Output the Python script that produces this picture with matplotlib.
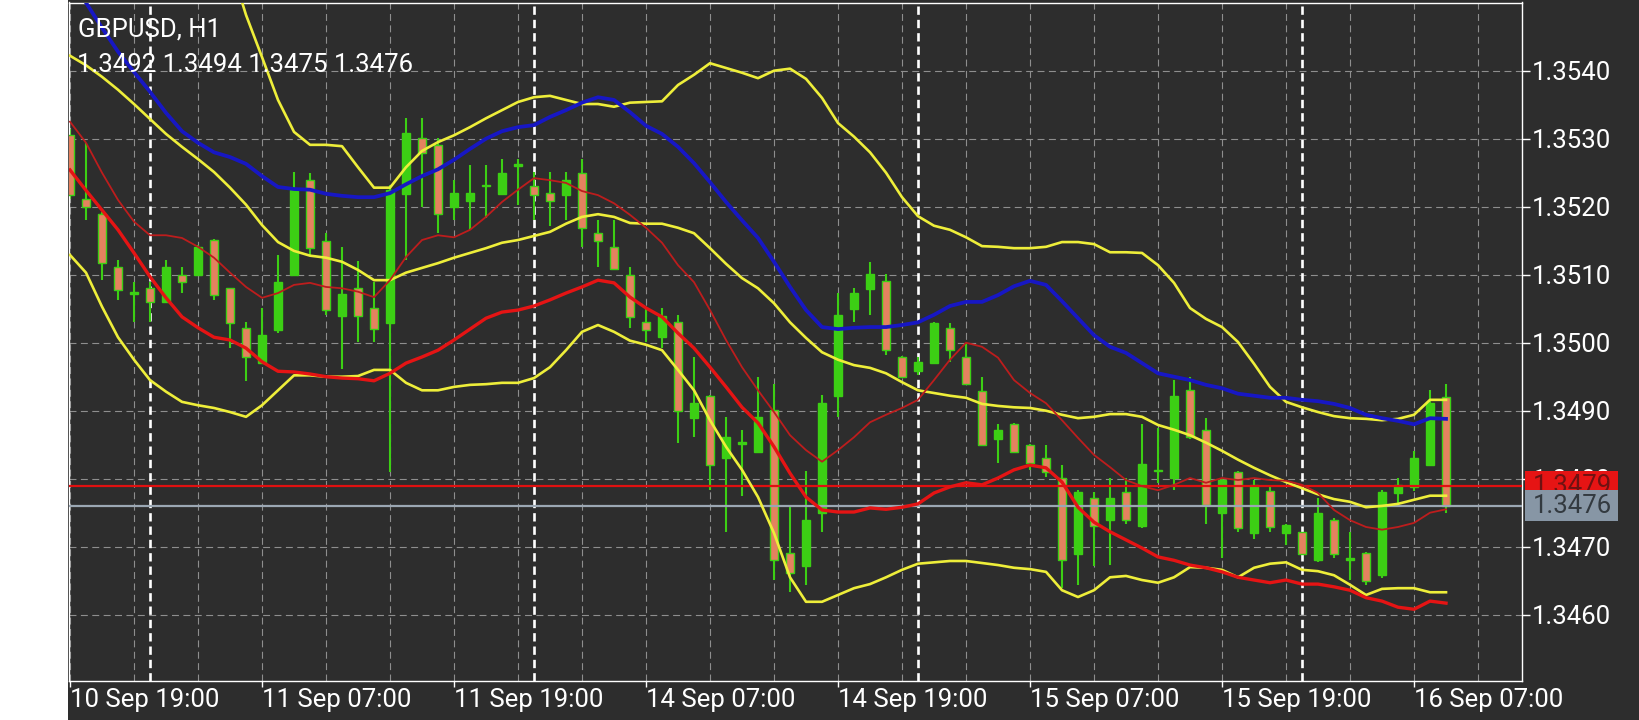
import matplotlib
matplotlib.use('Agg')
import matplotlib.pyplot as plt
from matplotlib.patches import Rectangle
import matplotlib.transforms as mtransforms
import numpy as np

plt.rcParams['font.family'] = ['Roboto', 'DejaVu Sans']
plt.rcParams['lines.scale_dashes'] = False

# ---------------- data ----------------
symbol_title = "GBPUSD, H1"
last_ohlc = "1.3492 1.3494 1.3475 1.3476"

opens = [1.35305, 1.35211, 1.35190, 1.35112, 1.35072, 1.35080, 1.35060, 1.35100, 1.35100, 1.35151,
         1.35080, 1.35021, 1.34970, 1.35019, 1.35100, 1.35239, 1.35150, 1.35039, 1.35080, 1.35051,
         1.35029, 1.35218, 1.35301, 1.35291, 1.35200, 1.35209, 1.35230, 1.35218, 1.35260, 1.35230,
         1.35220, 1.35217, 1.35250, 1.35161, 1.35141, 1.35100, 1.35031, 1.35009, 1.35031, 1.34889,
         1.34922, 1.34830, 1.34851, 1.34840, 1.34901, 1.34691, 1.34671, 1.34749, 1.34921, 1.35049,
         1.35079, 1.35091, 1.34979, 1.34959, 1.34970, 1.35021, 1.34979, 1.34929, 1.34859, 1.34881,
         1.34850, 1.34831, 1.34801, 1.34690, 1.34771, 1.34739, 1.34781, 1.34730, 1.34811, 1.34801,
         1.34930, 1.34872, 1.34749, 1.34810, 1.34720, 1.34782, 1.34720, 1.34721, 1.34680, 1.34740,
         1.34681, 1.34691, 1.34658, 1.34779, 1.34788, 1.34820, 1.34920]
highs = [1.35315, 1.35293, 1.35192, 1.35122, 1.35090, 1.35090, 1.35122, 1.35112, 1.35143, 1.35152,
         1.35081, 1.35031, 1.35051, 1.35129, 1.35251, 1.35250, 1.35161, 1.35141, 1.35120, 1.35090,
         1.35232, 1.35330, 1.35330, 1.35301, 1.35239, 1.35261, 1.35261, 1.35270, 1.35270, 1.35251,
         1.35251, 1.35251, 1.35270, 1.35180, 1.35180, 1.35112, 1.35051, 1.35051, 1.35041, 1.34979,
         1.34923, 1.34891, 1.34872, 1.34950, 1.34940, 1.34761, 1.34812, 1.34923, 1.35073, 1.35080,
         1.35119, 1.35101, 1.34980, 1.34979, 1.35031, 1.35029, 1.34999, 1.34950, 1.34881, 1.34882,
         1.34851, 1.34850, 1.34820, 1.34783, 1.34781, 1.34801, 1.34801, 1.34881, 1.34874, 1.34945,
         1.34950, 1.34889, 1.34800, 1.34812, 1.34798, 1.34791, 1.34733, 1.34722, 1.34771, 1.34742,
         1.34722, 1.34692, 1.34783, 1.34801, 1.34841, 1.34930, 1.34940]
lows = [1.35212, 1.35180, 1.35092, 1.35063, 1.35031, 1.35031, 1.35058, 1.35073, 1.35098, 1.35063,
        1.34992, 1.34943, 1.34968, 1.35014, 1.35098, 1.35129, 1.35041, 1.34962, 1.35001, 1.35001,
        1.34810, 1.35122, 1.35200, 1.35161, 1.35180, 1.35166, 1.35184, 1.35217, 1.35202, 1.35180,
        1.35171, 1.35180, 1.35141, 1.35112, 1.35108, 1.35021, 1.35001, 1.34992, 1.34852, 1.34862,
        1.34783, 1.34722, 1.34774, 1.34838, 1.34651, 1.34634, 1.34644, 1.34722, 1.34891, 1.35031,
        1.35041, 1.34982, 1.34948, 1.34952, 1.34968, 1.34972, 1.34938, 1.34848, 1.34823, 1.34838,
        1.34813, 1.34803, 1.34639, 1.34644, 1.34671, 1.34673, 1.34734, 1.34728, 1.34793, 1.34783,
        1.34859, 1.34734, 1.34683, 1.34722, 1.34712, 1.34722, 1.34702, 1.34688, 1.34678, 1.34683,
        1.34651, 1.34644, 1.34654, 1.34764, 1.34782, 1.34818, 1.34750]
closes = [1.35217, 1.35199, 1.35117, 1.35078, 1.35074, 1.35060, 1.35112, 1.35090, 1.35141, 1.35070,
          1.35029, 1.34979, 1.35011, 1.35090, 1.35225, 1.35139, 1.35048, 1.35072, 1.35039, 1.35020,
          1.35225, 1.35309, 1.35279, 1.35190, 1.35220, 1.35220, 1.35232, 1.35250, 1.35262, 1.35217,
          1.35209, 1.35240, 1.35168, 1.35149, 1.35109, 1.35038, 1.35019, 1.35039, 1.34899, 1.34911,
          1.34820, 1.34861, 1.34853, 1.34891, 1.34680, 1.34661, 1.34740, 1.34911, 1.35041, 1.35073,
          1.35101, 1.34989, 1.34950, 1.34971, 1.35029, 1.34989, 1.34939, 1.34850, 1.34872, 1.34840,
          1.34823, 1.34810, 1.34680, 1.34781, 1.34730, 1.34771, 1.34739, 1.34821, 1.34813, 1.34921,
          1.34861, 1.34761, 1.34798, 1.34727, 1.34791, 1.34729, 1.34732, 1.34690, 1.34750, 1.34690,
          1.34683, 1.34650, 1.34781, 1.34791, 1.34831, 1.34912, 1.34760]

upper_band = [1.35715, 1.35713, 1.35729, 1.35736, 1.35727, 1.35713, 1.35686, 1.35663, 1.35632, 1.35598,
              1.35558, 1.35482, 1.35420, 1.35357, 1.35310, 1.35291, 1.35291, 1.35289, 1.35258, 1.35228,
              1.35228, 1.35258, 1.35282, 1.35295, 1.35305, 1.35317, 1.35330, 1.35342, 1.35354, 1.35361,
              1.35363, 1.35357, 1.35351, 1.35351, 1.35347, 1.35353, 1.35354, 1.35355, 1.35379, 1.35394,
              1.35411, 1.35404, 1.35397, 1.35389, 1.35400, 1.35403, 1.35388, 1.35360, 1.35323, 1.35303,
              1.35280, 1.35250, 1.35214, 1.35186, 1.35172, 1.35166, 1.35155, 1.35142, 1.35141, 1.35139,
              1.35139, 1.35141, 1.35148, 1.35148, 1.35145, 1.35133, 1.35133, 1.35132, 1.35114, 1.35088,
              1.35051, 1.35035, 1.35023, 1.35001, 1.34969, 1.34935, 1.34913, 1.34905, 1.34898, 1.34892,
              1.34889, 1.34888, 1.34886, 1.34888, 1.34894, 1.34916, 1.34916]
middle_band = [1.35422, 1.35408, 1.35391, 1.35372, 1.35351, 1.35329, 1.35307, 1.35288, 1.35270, 1.35251,
               1.35228, 1.35203, 1.35173, 1.35148, 1.35135, 1.35128, 1.35125, 1.35119, 1.35107, 1.35092,
               1.35092, 1.35103, 1.35110, 1.35117, 1.35125, 1.35132, 1.35139, 1.35147, 1.35151, 1.35157,
               1.35163, 1.35175, 1.35185, 1.35189, 1.35185, 1.35176, 1.35175, 1.35175, 1.35169, 1.35161,
               1.35139, 1.35116, 1.35095, 1.35080, 1.35058, 1.35030, 1.35007, 1.34986, 1.34975, 1.34967,
               1.34963, 1.34955, 1.34942, 1.34930, 1.34926, 1.34922, 1.34919, 1.34910, 1.34907, 1.34905,
               1.34904, 1.34900, 1.34894, 1.34889, 1.34891, 1.34895, 1.34895, 1.34891, 1.34879, 1.34872,
               1.34864, 1.34853, 1.34841, 1.34828, 1.34816, 1.34805, 1.34795, 1.34786, 1.34777, 1.34770,
               1.34766, 1.34758, 1.34760, 1.34763, 1.34769, 1.34775, 1.34775]
lower_band = [1.35129, 1.35103, 1.35053, 1.35008, 1.34975, 1.34945, 1.34928, 1.34913, 1.34908, 1.34904,
              1.34898, 1.34891, 1.34908, 1.34930, 1.34952, 1.34952, 1.34950, 1.34950, 1.34951, 1.34960,
              1.34960, 1.34941, 1.34930, 1.34930, 1.34935, 1.34938, 1.34939, 1.34941, 1.34941, 1.34948,
              1.34964, 1.34989, 1.35016, 1.35026, 1.35016, 1.35003, 1.34997, 1.34989, 1.34960, 1.34930,
              1.34886, 1.34847, 1.34813, 1.34773, 1.34720, 1.34655, 1.34619, 1.34619, 1.34629, 1.34639,
              1.34645, 1.34655, 1.34666, 1.34675, 1.34677, 1.34679, 1.34679, 1.34676, 1.34673, 1.34669,
              1.34667, 1.34663, 1.34636, 1.34626, 1.34636, 1.34655, 1.34657, 1.34651, 1.34647, 1.34655,
              1.34670, 1.34669, 1.34666, 1.34655, 1.34669, 1.34675, 1.34677, 1.34666, 1.34664, 1.34658,
              1.34644, 1.34629, 1.34638, 1.34639, 1.34639, 1.34633, 1.34633]
blue_ma = [1.35541, 1.35500, 1.35463, 1.35428, 1.35398, 1.35369, 1.35338, 1.35311, 1.35294, 1.35280,
           1.35273, 1.35263, 1.35245, 1.35229, 1.35226, 1.35225, 1.35219, 1.35216, 1.35214, 1.35214,
           1.35220, 1.35233, 1.35245, 1.35255, 1.35269, 1.35285, 1.35300, 1.35311, 1.35317, 1.35320,
           1.35332, 1.35342, 1.35353, 1.35361, 1.35357, 1.35339, 1.35319, 1.35307, 1.35288, 1.35264,
           1.35236, 1.35207, 1.35180, 1.35154, 1.35119, 1.35082, 1.35048, 1.35023, 1.35020, 1.35022,
           1.35023, 1.35023, 1.35026, 1.35030, 1.35041, 1.35054, 1.35060, 1.35060, 1.35070, 1.35083,
           1.35091, 1.35085, 1.35061, 1.35036, 1.35011, 1.34994, 1.34985, 1.34970, 1.34955, 1.34950,
           1.34945, 1.34938, 1.34933, 1.34925, 1.34922, 1.34919, 1.34919, 1.34916, 1.34914, 1.34910,
           1.34904, 1.34894, 1.34889, 1.34885, 1.34880, 1.34889, 1.34888]
red_thin = [1.35325, 1.35294, 1.35250, 1.35210, 1.35178, 1.35158, 1.35158, 1.35154, 1.35141, 1.35125,
            1.35103, 1.35082, 1.35066, 1.35073, 1.35085, 1.35088, 1.35082, 1.35080, 1.35075, 1.35067,
            1.35092, 1.35126, 1.35151, 1.35158, 1.35155, 1.35166, 1.35185, 1.35207, 1.35225, 1.35242,
            1.35239, 1.35235, 1.35223, 1.35217, 1.35205, 1.35188, 1.35169, 1.35147, 1.35114, 1.35089,
            1.35048, 1.35004, 1.34964, 1.34930, 1.34898, 1.34864, 1.34842, 1.34825, 1.34842, 1.34861,
            1.34883, 1.34894, 1.34904, 1.34916, 1.34945, 1.34975, 1.35000, 1.34994, 1.34978, 1.34945,
            1.34926, 1.34911, 1.34886, 1.34860, 1.34835, 1.34817, 1.34798, 1.34789, 1.34783, 1.34791,
            1.34801, 1.34794, 1.34801, 1.34798, 1.34801, 1.34798, 1.34797, 1.34791, 1.34779, 1.34754,
            1.34739, 1.34729, 1.34725, 1.34729, 1.34735, 1.34750, 1.34755]
red_thick = [1.35254, 1.35224, 1.35195, 1.35166, 1.35132, 1.35097, 1.35066, 1.35038, 1.35022, 1.35008,
             1.35004, 1.34992, 1.34972, 1.34958, 1.34957, 1.34954, 1.34950, 1.34948, 1.34947, 1.34944,
             1.34955, 1.34970, 1.34979, 1.34989, 1.35004, 1.35020, 1.35036, 1.35045, 1.35048, 1.35054,
             1.35063, 1.35073, 1.35082, 1.35092, 1.35088, 1.35067, 1.35051, 1.35038, 1.35014, 1.34992,
             1.34964, 1.34935, 1.34905, 1.34882, 1.34847, 1.34808, 1.34773, 1.34754, 1.34751, 1.34751,
             1.34757, 1.34755, 1.34758, 1.34763, 1.34779, 1.34788, 1.34794, 1.34791, 1.34801, 1.34813,
             1.34820, 1.34816, 1.34795, 1.34758, 1.34736, 1.34722, 1.34710, 1.34698, 1.34685, 1.34680,
             1.34673, 1.34669, 1.34663, 1.34655, 1.34651, 1.34647, 1.34651, 1.34645, 1.34645, 1.34641,
             1.34636, 1.34625, 1.34620, 1.34611, 1.34608, 1.34620, 1.34617]

time_tick_index = [0, 12, 24, 36, 48, 60, 72, 84]
time_tick_labels = ["10 Sep 19:00", "11 Sep 07:00", "11 Sep 19:00", "14 Sep 07:00",
                    "14 Sep 19:00", "15 Sep 07:00", "15 Sep 19:00", "16 Sep 07:00"]
day_separators = [5, 29, 53, 77]
price_ticks = [1.3460, 1.3470, 1.3480, 1.3490, 1.3500, 1.3510, 1.3520, 1.3530, 1.3540]
ask_price = 1.3479
bid_price = 1.3476

# ---------------- style ----------------
W, H = 1640, 720
BG = '#2d2d2d'
GRID = '#8e8e8e'
GREEN = '#3ccf14'
SALMON = '#e4825f'
YELLOW = '#eeee3a'
BLUE = '#1717c4'
RED_THIN = '#bd1d1d'
RED_THICK = '#e51414'
FS = 18.5

fig = plt.figure(figsize=(W / 100, H / 100), dpi=100, facecolor=BG)
fig.patches.append(Rectangle((0, 0), 68 / W, 1, transform=fig.transFigure,
                             facecolor='white', edgecolor='none', zorder=-10))
ax_l, ax_r, ax_b, ax_t = 69.3, 1521.7, 681.0, 2.5
ax = fig.add_axes([ax_l / W, 1 - ax_b / H, (ax_r - ax_l) / W, (ax_b - ax_t) / H], facecolor=BG)
ax.set_xlim(-0.044, 90.73)
ax.set_ylim(1.345025, 1.355003)

# grid
for p in price_ticks:
    ax.axhline(p, color=GRID, lw=0.8, ls=(0, (5, 3.2)), zorder=1)
for gx in range(0, 92, 4):
    ax.axvline(gx, color=GRID, lw=0.8, ls=(0, (5, 3.2)), zorder=1)
for d in day_separators:
    ax.axvline(d, color='white', lw=1.9, ls=(0, (6, 3.6)), zorder=1.5)

# candles
x = np.arange(len(opens))
o = np.array(opens); h = np.array(highs); l = np.array(lows); c = np.array(closes)
bull = c >= o
ax.vlines(x, l, h, color=GREEN, lw=1.5, zorder=2)
body_bottom = np.minimum(o, c)
body_h = np.maximum(np.abs(c - o), 0.000025)
ax.bar(x, body_h, bottom=body_bottom, width=0.5,
       color=[GREEN if b else SALMON for b in bull],
       edgecolor=GREEN, linewidth=1.0, zorder=3)

# bid / ask lines
ax.axhline(ask_price, color='#e01010', lw=1.6, zorder=4)
ax.axhline(bid_price, color='#9ba7b3', lw=1.6, zorder=4)

# indicators
ax.plot(x, upper_band, color=YELLOW, lw=1.9, zorder=5)
ax.plot(x, middle_band, color=YELLOW, lw=1.9, zorder=5)
ax.plot(x, lower_band, color=YELLOW, lw=1.9, zorder=5)
ax.plot(x, red_thin, color=RED_THIN, lw=1.3, zorder=5.2)
ax.plot(x, red_thick, color=RED_THICK, lw=2.4, zorder=5.3)
ax.plot(x, blue_ma, color=BLUE, lw=2.7, zorder=5.4)

# spines / ticks
for s in ax.spines.values():
    s.set_color('white')
    s.set_linewidth(1.0)
ax.yaxis.tick_right()
ax.set_yticks(price_ticks)
ax.set_yticklabels([f'{p:.4f}' for p in price_ticks])
ax.tick_params(axis='y', colors='white', labelsize=FS, length=6, width=1.0, pad=1.5)
ax.set_xticks(time_tick_index)
ax.set_xticklabels(time_tick_labels, ha='left')
ax.tick_params(axis='x', colors='white', labelsize=FS, length=4, width=1.0, pad=1)

# price labels on the right (bid box partly covers the ask box, as in the terminal)
trans = mtransforms.blended_transform_factory(ax.transAxes, ax.transData)
bx0 = (1525 - ax_l) / (ax_r - ax_l)
bw = (1618 - 1525) / (ax_r - ax_l)
tx = (1532.5 - ax_l) / (ax_r - ax_l)
ask_box = Rectangle((bx0, ask_price - 0.00022), bw, 0.00044, transform=trans,
                    facecolor='#e61414', edgecolor='none', clip_on=False, zorder=10)
ax.add_patch(ask_box)
ax.text(tx, ask_price, f'{ask_price:.4f}', transform=trans, color='#6e1212', fontsize=FS,
        va='center', ha='left', clip_on=False, zorder=11)
ax.add_patch(Rectangle((bx0, bid_price - 0.000228), bw, 0.000456, transform=trans,
                       facecolor='#8796a5', edgecolor='none', clip_on=False, zorder=12))
ax.text(tx, bid_price, f'{bid_price:.4f}', transform=trans, color='#333a40', fontsize=FS,
        va='center', ha='left', clip_on=False, zorder=13)

# header texts
fig.text(78 / W, 1 - 36 / H, symbol_title, color='white', fontsize=FS, ha='left', va='baseline', zorder=20)
fig.text(77 / W, 1 - 71.7 / H, last_ohlc, color='white', fontsize=FS, ha='left', va='baseline', zorder=20)

fig.savefig('out.png', dpi=100, facecolor=fig.get_facecolor())
